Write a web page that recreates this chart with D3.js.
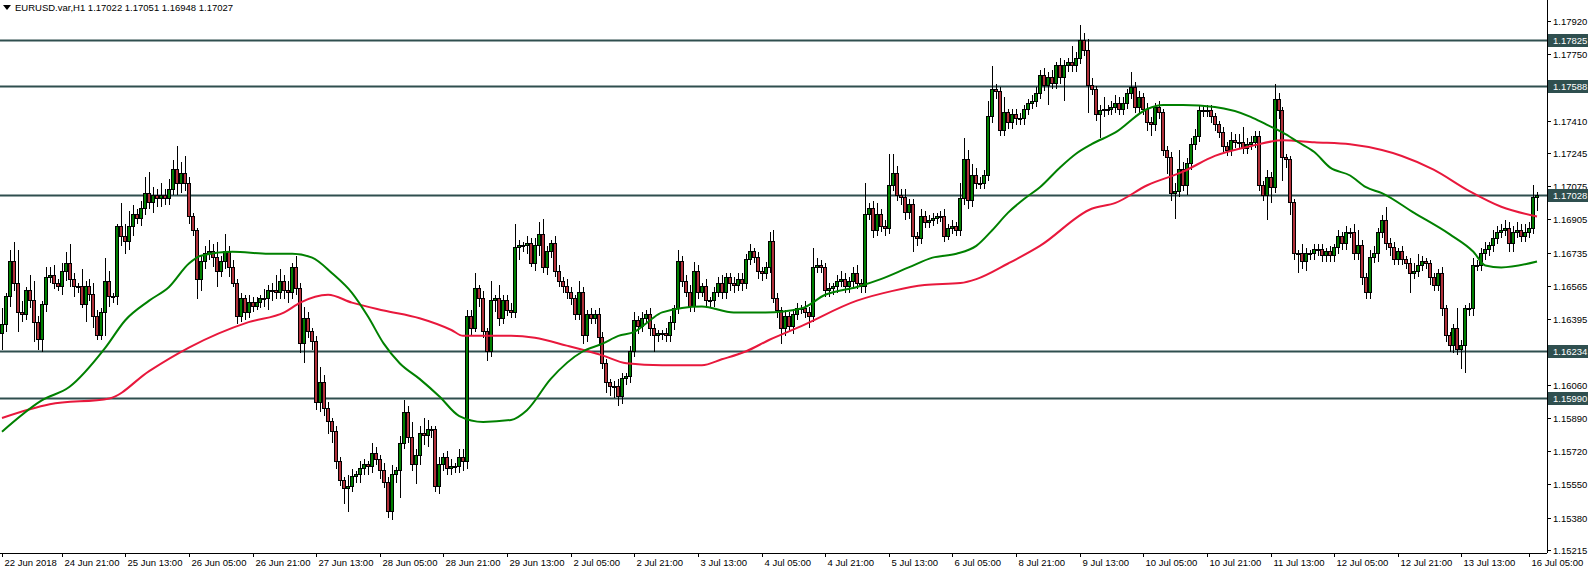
<!DOCTYPE html>
<html><head><meta charset="utf-8">
<script src="https://cdn.jsdelivr.net/npm/d3@7"></script>
<style>body{margin:0;background:#fff}svg{display:block}text{font-family:"Liberation Sans",Arial,sans-serif;font-size:9.5px}</style>
</head><body><svg id="c" width="1588" height="569"></svg>
<script>
const header = "EURUSD.var,H1  1.17022 1.17051 1.16948 1.17027";
const firstOpen = 1.1632;
const closes = [
1.1637,1.1651,1.1669,1.1658,1.1643,1.1642,1.1654,1.1649,1.1638,1.1629,
1.1647,1.1661,1.1662,1.1658,1.1656,1.1664,1.1668,1.1660,1.1656,1.1656,
1.1647,1.1656,1.1652,1.1641,1.1631,1.1643,1.1659,1.1651,1.1651,1.1687,
1.1682,1.1679,1.1687,1.1693,1.1691,1.1696,1.1704,1.1699,1.1703,1.1701,
1.1703,1.1701,1.1706,1.1716,1.1709,1.1714,1.1709,1.1692,1.1685,1.1660,
1.1669,1.1673,1.1674,1.1671,1.1664,1.1669,1.1674,1.1666,1.1658,1.1641,
1.1650,1.1643,1.1648,1.1646,
1.1648,1.1650,1.1650,1.1654,1.1654,1.1653,1.1659,1.1654,1.1653,1.1666,
1.1655,1.1627,1.1640,1.1633,1.1628,1.1597,1.1607,1.1594,1.1587,1.1582,
1.1567,1.1557,1.1553,1.1554,1.1559,1.1560,1.1563,1.1565,1.1564,1.1571,
1.1568,1.1562,1.1556,1.1541,1.1560,1.1562,1.1576,1.1592,1.1579,1.1565,
1.1570,1.1581,1.1580,1.1583,1.1583,1.1554,1.1565,1.1569,1.1563,1.1564,
1.1564,1.1569,1.1567,1.1641,1.1635,1.1655,1.1650,1.1633,1.1623,1.1649,
1.1650,1.1640,1.1649,1.1644,1.1643,
1.1676,1.1677,1.1677,1.1678,1.1668,1.1677,1.1683,1.1666,1.1674,1.1678,
1.1664,1.1659,1.1656,1.1653,1.1650,1.1642,1.1653,1.1631,1.1642,1.1640,
1.1642,1.1630,1.1617,1.1607,1.1605,1.1605,1.1600,1.1609,1.1610,1.1623,
1.1639,1.1636,1.1640,1.1642,1.1635,1.1631,1.1632,1.1632,1.1631,1.1638,
1.1645,1.1669,1.1659,1.1653,1.1646,1.1664,1.1653,1.1656,1.1649,1.1649,
1.1653,1.1658,1.1653,1.1661,1.1658,1.1657,1.1660,1.1658,1.1670,1.1674,
1.1671,1.1664,1.1663,1.1666,1.1679,1.1650,1.1644,1.1635,1.1641,1.1636,
1.1642,1.1645,
1.1645,1.1643,1.1641,1.1666,1.1667,1.1666,1.1654,1.1655,1.1656,1.1659,
1.1660,1.1656,1.1659,1.1663,1.1658,1.1656,1.1693,1.1696,1.1685,1.1693,
1.1687,1.1686,1.1708,1.1714,1.1703,1.1702,1.1694,1.1698,1.1682,1.1681,
1.1692,1.1689,1.1690,1.1691,1.1692,1.1692,1.1682,1.1686,1.1687,1.1685,
1.1701,1.1721,1.1700,1.1713,1.1709,1.1709,1.1713,1.1743,1.1757,1.1756,
1.1736,1.1745,1.1740,1.1744,1.1742,1.1742,1.1747,1.1750,1.1751,1.1755,
1.1764,1.1759,1.1763,1.1760,1.1769,1.1763,1.1769,1.1771,1.1769,1.1773,
1.1782,1.1777,1.1759,
1.1757,1.1744,1.1746,1.1747,1.1747,1.1748,1.1750,1.1747,1.1750,1.1755,
1.1758,1.1748,1.1753,1.1747,1.1740,1.1739,1.1748,1.1745,1.1726,1.1722,
1.1704,1.1705,1.1716,1.1708,1.1719,1.1729,1.1733,1.1746,1.1746,1.1746,
1.1743,1.1739,1.1735,1.1728,1.1726,1.1731,1.1730,1.1730,1.1727,1.1729,
1.1730,1.1733,1.1708,1.1703,1.1712,1.1707,1.1752,1.1746,1.1722,1.1721,
1.1699,1.1673,1.1673,1.1669,1.1673,1.1673,1.1675,1.1675,1.1672,1.1674,
1.1672,1.1676,1.1682,1.1678,1.1684,1.1684,1.1673,1.1677,1.1661,1.1653,
1.1671,1.1673,1.1684,
1.1690,1.1678,1.1676,1.1670,1.1674,1.1670,1.1668,1.1663,1.1664,1.1667,
1.1669,1.1668,1.1661,1.1657,1.1663,1.1645,1.1631,1.1626,1.1635,1.1624,
1.1626,1.1645,1.1645,1.1667,1.1667,1.1673,1.1675,1.1677,1.1681,1.1684,
1.1685,1.1686,1.1678,1.1684,1.1685,1.1682,1.1684,1.1686,1.1702,1.17027
];
const wickUpPips = [
8,2,6,10,17,6,2,8,10,3, 2,5,4,5,2,4,6,10,3,2, 9,3,4,6,3,2,12,5,2,1, 12,6,8,5,3,4,8,11,4,3, 6,3,5,5,12,6,9,3,2,1, 3,4,6,4,8,3,9,3,4,2, 3,2,4,3,
3,2,5,3,4,8,6,3,5,2, 6,3,6,3,2,3,8,4,3,2, 3,2,2,6,4,2,4,3,2,5, 3,2,4,3,5,2,4,6,3,8, 3,4,8,5,2,2,4,2,3,4, 2,4,4,3,3,8,2,4,2,10, 2,7,3,3,4,
12,3,2,4,3,4,6,8,3,2, 4,3,2,4,3,2,6,3,2,3, 2,3,3,2,2,3,4,3,2,3, 4,2,3,2,3,2,2,2,3,3, 2,6,3,3,4,5,3,2,4,2, 3,3,4,2,2,3,3,3,3,4, 2,3,2,3,5,6,3,2,3,2, 2,3,
2,4,3,10,4,3,2,3,2,3, 4,3,2,3,4,2,16,3,4,6, 3,3,16,10,4,3,4,3,3,2, 4,3,3,3,2,3,4,2,3,2, 8,11,5,6,4,3,3,8,12,3, 2,8,2,3,3,3,2,2,3,3, 3,4,3,4,2,4,3,2,8,3, 8,4,6,
4,2,3,6,2,3,4,3,3,2, 8,3,3,2,3,3,2,3,2,2, 3,4,10,4,3,3,4,3,2,3, 3,2,2,3,2,4,3,4,8,3, 3,3,3,2,4,3,8,3,2,2, 2,2,2,5,3,2,3,3,3,2, 3,2,3,2,3,2,4,8,3,2, 4,4,2,
3,7,3,3,2,3,2,3,4,6, 3,2,2,2,2,3,2,2,2,10, 3,2,3,4,3,3,4,2,4,3, 3,4,3,3,4,3,4,3,6,2
];
const wickDnPips = [
8,4,5,4,10,4,3,4,10,5, 6,4,3,3,2,4,5,4,5,3, 2,9,3,6,2,2,12,5,3,4, 5,6,4,5,3,4,3,3,5,4, 4,3,3,3,6,5,4,4,3,10, 6,4,3,5,8,3,4,5,2,4, 3,4,3,3,
2,3,4,6,5,3,3,4,5,3, 3,5,10,3,4,4,5,4,6,6, 4,3,8,12,3,3,4,3,4,3, 3,4,3,3,4,4,14,3,3,3, 10,5,5,6,4,3,4,3,3,3, 3,3,5,4,4,2,4,3,5,3, 6,4,3,3,3,
3,6,3,4,2,4,5,3,4,3, 3,3,3,3,3,3,3,4,3,3, 3,4,3,5,5,6,5,4,3,3, 3,4,3,3,4,8,3,3,3,3, 4,3,3,2,3,3,3,2,3,4, 3,2,3,3,4,4,3,4,3,3, 3,4,4,3,3,2,4,8,4,3, 4,3,
3,3,6,3,3,3,3,3,3,3, 3,3,3,3,3,3,3,3,4,3, 3,4,3,3,3,4,4,3,8,4, 3,3,3,3,3,3,3,2,3,3, 3,3,4,3,3,3,3,3,3,4, 3,3,3,3,3,3,3,3,3,3, 3,3,10,3,3,3,12,3,3,3, 3,3,14,
3,3,12,3,3,3,3,3,3,3, 3,3,3,3,4,6,3,3,3,8, 4,13,3,3,5,3,3,3,3,3, 3,3,3,3,3,3,3,3,3,3, 3,3,3,3,13,8,3,4,12,4, 6,3,10,4,5,3,3,3,3,3, 3,3,3,3,3,3,3,3,4,3, 3,3,4,
3,3,4,3,3,3,3,10,3,3, 3,3,4,3,3,4,3,3,4,3, 10,14,4,4,3,3,3,3,3,3, 3,3,4,4,3,3,3,3,3,7
];
const maFastIdx = [0,10,17,26,31,37,42,47,50,58,67,73,78,83,88,92,96,100,105,110,115,121,128,132,138,146,151,155,159,163,166,176,184,192,201,207,215,221,228,234,240,245,249,253,257,261,266,270,274,280,288,292,297,305,314,318,322,326,330,334,339,343,347,355,364,370,373,377,386];
const maFastVal = [1.1582,1.1598,1.1605,1.1625,1.1639,1.1649,1.1656,1.1668,1.1672,1.1674,1.1673,1.1673,1.1671,1.1663,1.1653,1.1641,1.1627,1.1617,1.1609,1.1600,1.1590,1.1587,1.1588,1.1593,1.1609,1.1623,1.1627,1.1631,1.1633,1.1639,1.1643,1.1646,1.1643,1.1643,1.1645,1.1652,1.1656,1.1660,1.1666,1.1671,1.1673,1.1677,1.1685,1.1694,1.1701,1.1707,1.1717,1.1724,1.1729,1.1735,1.1747,1.1749,1.1749,1.1748,1.1743,1.1739,1.1735,1.1730,1.1725,1.1717,1.1713,1.1707,1.1704,1.1694,1.1683,1.1674,1.1667,1.1666,1.1669];
const maSlowIdx = [0,12,27,37,47,62,71,75,82,88,96,105,113,116,128,134,142,151,157,166,176,181,187,193,201,215,224,232,241,245,253,261,274,280,288,297,305,314,322,330,339,347,352,360,369,377,386];
const maSlowVal = [1.1589,1.1596,1.1599,1.1613,1.1625,1.1638,1.1643,1.1648,1.1652,1.1648,1.1644,1.1640,1.1634,1.1631,1.1631,1.1630,1.1626,1.1621,1.1617,1.1616,1.1616,1.1619,1.1623,1.1629,1.1636,1.1649,1.1654,1.1657,1.1658,1.1660,1.1668,1.1677,1.1696,1.1699,1.1708,1.1715,1.1723,1.1728,1.1731,1.1730,1.1729,1.1726,1.1723,1.1716,1.1705,1.1697,1.1692];
const levelPrices = [1.17825,1.17588,1.17028,1.16234,1.15990];
const levelLabels = ["1.17825","1.17588","1.17028","1.16234","1.15990"];
const priceTicks = [1.17920,1.17750,1.17410,1.17245,1.17075,1.16905,1.16735,1.16565,1.16395,1.16060,1.15890,1.15720,1.15550,1.15380,1.15215];
const timeLabels = ["22 Jun 2018","24 Jun 21:00","25 Jun 13:00","26 Jun 05:00","26 Jun 21:00","27 Jun 13:00","28 Jun 05:00","28 Jun 21:00","29 Jun 13:00","2 Jul 05:00","2 Jul 21:00","3 Jul 13:00","4 Jul 05:00","4 Jul 21:00","5 Jul 13:00","6 Jul 05:00","8 Jul 21:00","9 Jul 13:00","10 Jul 05:00","10 Jul 21:00","11 Jul 13:00","12 Jul 05:00","12 Jul 21:00","13 Jul 13:00","16 Jul 05:00"];
const timeLabelIdx = [0,15,31,47,63,79,95,111,127,143,159,175,191,207,223,239,255,271,287,303,319,335,351,367,384];

const svg = d3.select("#c");
const W=1588, axisX=1547, bottomY=553;
const n = closes.length;
const x = d3.scaleLinear().domain([0,n-1]).range([2,1537]);
const y = d3.scaleLinear().domain([1.15215,1.17920]).range([550,21]);
const pip = 0.0001;

const candles = closes.map((c,i)=>{
  const o = i===0?firstOpen:closes[i-1];
  return {i,o,c,h:Math.max(o,c)+(wickUpPips[i]||0)*pip,l:Math.min(o,c)-(wickDnPips[i]||0)*pip};
});

svg.append("g").selectAll("line").data(levelPrices).join("line")
 .attr("x1",0).attr("x2",axisX).attr("y1",d=>Math.round(y(d))+0.5).attr("y2",d=>Math.round(y(d))+0.5)
 .attr("stroke","#2f4f4f").attr("stroke-width",2);

const cg = svg.append("g").attr("shape-rendering","crispEdges");
cg.selectAll("line").data(candles).join("line")
 .attr("x1",d=>Math.round(x(d.i))+0.5).attr("x2",d=>Math.round(x(d.i))+0.5)
 .attr("y1",d=>y(d.h)).attr("y2",d=>y(d.l)).attr("stroke","#000");
cg.selectAll("rect").data(candles).join("rect")
 .attr("x",d=>Math.round(x(d.i))-1.5).attr("width",3)
 .attr("y",d=>y(Math.max(d.o,d.c))).attr("height",d=>Math.max(1,Math.abs(y(d.o)-y(d.c))))
 .attr("fill",d=>d.c>=d.o?"#008000":"#b0303a").attr("stroke","#000").attr("stroke-width",1);

const mk = (idx,val)=>idx.map((v,k)=>[v,val[k]]);
const lg = d3.line().x(d=>x(d[0])).y(d=>y(d[1])).curve(d3.curveMonotoneX);
svg.append("path").attr("d",lg(mk(maSlowIdx,maSlowVal))).attr("fill","none").attr("stroke","#e8183c").attr("stroke-width",2);
svg.append("path").attr("d",lg(mk(maFastIdx,maFastVal))).attr("fill","none").attr("stroke","#008000").attr("stroke-width",2);

svg.append("rect").attr("x",axisX).attr("y",0).attr("width",W-axisX).attr("height",569).attr("fill","#fff");
svg.append("rect").attr("x",0).attr("y",bottomY).attr("width",W).attr("height",569-bottomY).attr("fill","#fff");
svg.append("line").attr("x1",axisX+0.5).attr("x2",axisX+0.5).attr("y1",0).attr("y2",bottomY).attr("stroke","#000");
svg.append("line").attr("x1",0).attr("x2",axisX).attr("y1",bottomY+0.5).attr("y2",bottomY+0.5).attr("stroke","#000");

const tg = svg.append("g");
priceTicks.forEach(p=>{
  const yy=Math.round(y(p))+0.5;
  tg.append("line").attr("x1",axisX).attr("x2",axisX+4).attr("y1",yy).attr("y2",yy).attr("stroke","#000");
  tg.append("text").attr("x",axisX+6).attr("y",yy+3.5).text(p.toFixed(5));
});
levelPrices.forEach((p,k)=>{
  const yy=Math.round(y(p));
  tg.append("rect").attr("x",axisX+1).attr("y",yy-6).attr("width",W-axisX-1).attr("height",13).attr("fill","#2f4f4f");
  tg.append("text").attr("x",axisX+6).attr("y",yy+4).attr("fill","#fff").text(levelLabels[k]);
});
timeLabels.forEach((t,k)=>{
  const xx=Math.round(x(timeLabelIdx[k]))+0.5;
  tg.append("line").attr("x1",xx).attr("x2",xx).attr("y1",bottomY).attr("y2",bottomY+4).attr("stroke","#000");
  tg.append("text").attr("x",xx+2).attr("y",bottomY+13).text(t);
});
svg.append("path").attr("d","M3,5 L11,5 L7,10 Z").attr("fill","#000");
svg.append("text").attr("x",15).attr("y",11).text(header);
</script></body></html>
